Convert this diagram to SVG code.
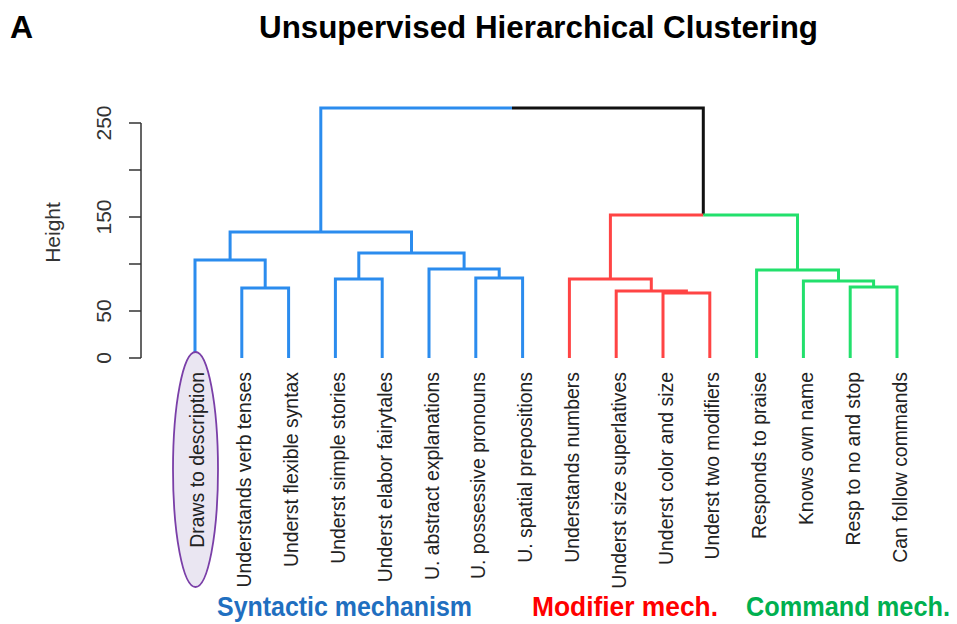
<svg xmlns="http://www.w3.org/2000/svg" width="957" height="624" viewBox="0 0 957 624">
<style>
.leaf{font-family:"Liberation Sans",Arial,sans-serif;font-size:19.4px;fill:#222;text-anchor:end}
.tick{font-family:"Liberation Sans",Arial,sans-serif;font-size:21px;fill:#333;text-anchor:middle}
.ttl{font-family:"Liberation Sans",Arial,sans-serif;font-weight:bold;fill:#000}
.grp{font-family:"Liberation Sans",Arial,sans-serif;font-weight:bold;font-size:27px}
.b{fill:none;stroke:#2B8CEE;stroke-width:3}
.r{fill:none;stroke:#FF4444;stroke-width:3}
.g{fill:none;stroke:#22E06C;stroke-width:3}
.k{fill:none;stroke:#111;stroke-width:3}
.ax{fill:none;stroke:#333;stroke-width:1.5}
</style>
<rect width="957" height="624" fill="#fff"/>
<g id="title">
<text class="ttl" x="10" y="37.5" font-size="32">A</text>
<text class="ttl" x="259" y="37.5" font-size="32" textLength="559" lengthAdjust="spacingAndGlyphs">Unsupervised Hierarchical Clustering</text>
</g>
<g id="axis">
<path class="ax" d="M141 123V358M129 123H141M129 170H141M129 217H141M129 264H141M129 311H141M129 358H141"/>
<text class="tick" transform="translate(111,123) rotate(-90)">250</text>
<text class="tick" transform="translate(111,217) rotate(-90)">150</text>
<text class="tick" transform="translate(111,311) rotate(-90)">50</text>
<text class="tick" transform="translate(111,358) rotate(-90)">0</text>
<text class="tick" font-size="22px" transform="translate(60,232.5) rotate(-90)">Height</text>
</g>
<g id="connectors">
<path class="b" d="M241.8 358V288H288.6V358"/>
<path class="b" d="M195 358V260H265.2V288"/>
<path class="b" d="M335.4 358V279H382.2V358"/>
<path class="b" d="M475.8 358V278H522.6V358"/>
<path class="b" d="M429 358V269H499.2V278"/>
<path class="b" d="M358.8 279V253H464.1V269"/>
<path class="b" d="M230.1 260V232H411.5V253"/>
<path class="b" d="M320.8 232V108H512"/>
<path class="k" d="M512 108H703.3V215"/>
<path class="r" d="M663 358V293H709.8V358"/>
<path class="r" d="M616.2 358V291H686.4V293"/>
<path class="r" d="M569.4 358V279H651.3V291"/>
<path class="r" d="M610.4 279V215H703.3"/>
<path class="g" d="M850.2 358V287H897V358"/>
<path class="g" d="M803.4 358V281H873.6V287"/>
<path class="g" d="M756.6 358V270H838.5V281"/>
<path class="g" d="M797.5 270V215H703.3"/>
</g>
<g id="leaf-draws">
<ellipse cx="195.5" cy="469.5" rx="22.5" ry="117.5" fill="#EAE6F2" stroke="#7A3FA8" stroke-width="1.8"/>
<text class="leaf" transform="translate(204,372) rotate(-90)">Draws to description</text>
</g>
<g id="leaf-verb"><text class="leaf" transform="translate(251.3,372) rotate(-90)">Understands verb tenses</text></g>
<g id="leaf-flex"><text class="leaf" transform="translate(298.1,372) rotate(-90)">Underst flexible syntax</text></g>
<g id="leaf-stories"><text class="leaf" transform="translate(344.9,372) rotate(-90)">Underst simple stories</text></g>
<g id="leaf-fairy"><text class="leaf" transform="translate(391.7,372) rotate(-90)">Underst elabor fairytales</text></g>
<g id="leaf-abstract"><text class="leaf" transform="translate(438.5,372) rotate(-90)">U. abstract explanations</text></g>
<g id="leaf-possessive"><text class="leaf" transform="translate(485.3,372) rotate(-90)">U. possessive pronouns</text></g>
<g id="leaf-spatial"><text class="leaf" transform="translate(532.1,372) rotate(-90)">U. spatial prepositions</text></g>
<g id="leaf-numbers"><text class="leaf" transform="translate(578.9,372) rotate(-90)">Understands numbers</text></g>
<g id="leaf-superl"><text class="leaf" transform="translate(625.7,372) rotate(-90)">Underst size superlatives</text></g>
<g id="leaf-colorsize"><text class="leaf" transform="translate(672.5,372) rotate(-90)">Underst color and size</text></g>
<g id="leaf-twomod"><text class="leaf" transform="translate(719.3,372) rotate(-90)">Underst two modifiers</text></g>
<g id="leaf-praise"><text class="leaf" transform="translate(766.1,372) rotate(-90)">Responds to praise</text></g>
<g id="leaf-name"><text class="leaf" transform="translate(812.9,372) rotate(-90)">Knows own name</text></g>
<g id="leaf-nostop"><text class="leaf" transform="translate(859.7,372) rotate(-90)">Resp to no and stop</text></g>
<g id="leaf-commands"><text class="leaf" transform="translate(906.5,372) rotate(-90)">Can follow commands</text></g>
<g id="group-labels">
<text class="grp" x="217" y="616" fill="#1F6FC0" textLength="255" lengthAdjust="spacingAndGlyphs">Syntactic mechanism</text>
<text class="grp" x="532" y="616" fill="#FF0000" textLength="186" lengthAdjust="spacingAndGlyphs">Modifier mech.</text>
<text class="grp" x="746" y="616" fill="#00B050" font-size="25px" textLength="204" lengthAdjust="spacingAndGlyphs">Command mech.</text>
</g>
</svg>
